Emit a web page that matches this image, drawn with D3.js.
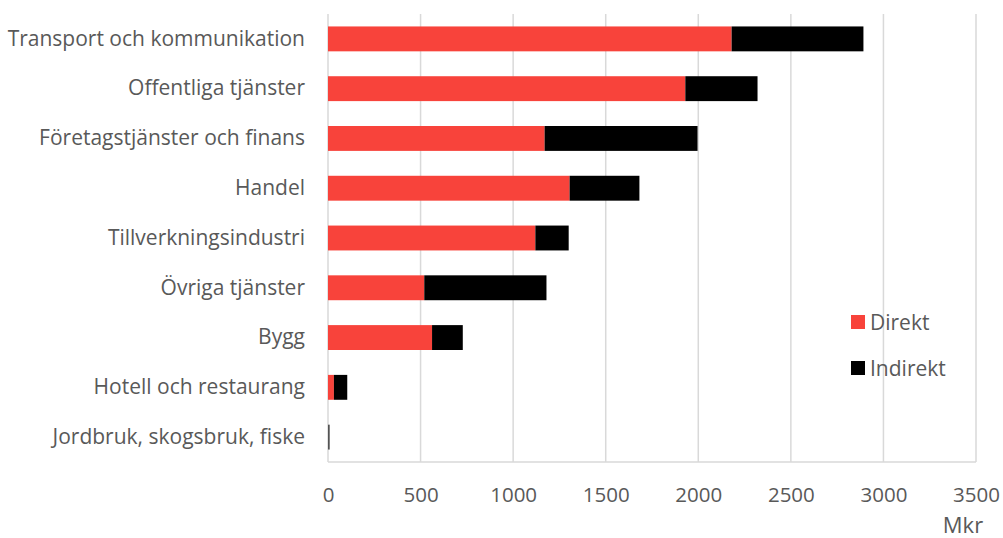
<!DOCTYPE html>
<html>
<head>
<meta charset="utf-8">
<script src="https://cdn.jsdelivr.net/npm/d3@7"></script>
<style>
  body { margin: 0; background: #fff; }
  text { font-family: "Open Sans", Lato, sans-serif; fill: #595959; }
</style>
</head>
<body>
<div id="wrapper"></div>
<script>
const categories = [
  "Transport och kommunikation",
  "Offentliga tjänster",
  "Företagstjänster och finans",
  "Handel",
  "Tillverkningsindustri",
  "Övriga tjänster",
  "Bygg",
  "Hotell och restaurang",
  "Jordbruk, skogsbruk, fiske",
];
const direkt = [2180, 1930, 1170, 1305, 1120, 520, 562, 32, 2];
const indirekt = [712, 390, 826, 377, 180, 660, 166, 72, 6];
const xTicks = [0, 500, 1000, 1500, 2000, 2500, 3000, 3500];
const seriesNames = ["Direkt", "Indirekt"];
const colors = ["#f8433b", "#000000"];

function drawBarChart() {
  let dimensions = {
    width: 1003,
    height: 538,
    margin: { top: 14, right: 27, bottom: 76, left: 328 },
  };
  dimensions.boundedWidth =
    dimensions.width - dimensions.margin.left - dimensions.margin.right;
  dimensions.boundedHeight =
    dimensions.height - dimensions.margin.top - dimensions.margin.bottom;

  const dataset = categories.map((c, i) => ({
    category: c,
    Direkt: direkt[i],
    Indirekt: indirekt[i],
  }));

  const stacked = d3.stack().keys(seriesNames)(dataset);

  const wrapper = d3
    .select("#wrapper")
    .append("svg")
    .attr("width", dimensions.width)
    .attr("height", dimensions.height);

  const bounds = wrapper
    .append("g")
    .attr(
      "transform",
      `translate(${dimensions.margin.left}, ${dimensions.margin.top})`
    );

  const xScale = d3
    .scaleLinear()
    .domain([0, 3500])
    .range([0, dimensions.boundedWidth]);

  const yScale = d3
    .scaleBand()
    .domain(categories)
    .range([0, dimensions.boundedHeight])
    .paddingInner(0.5)
    .paddingOuter(0.25);

  // gridlines
  bounds
    .append("g")
    .selectAll("line")
    .data(xTicks)
    .join("line")
    .attr("x1", (d) => xScale(d))
    .attr("x2", (d) => xScale(d))
    .attr("y1", 0)
    .attr("y2", dimensions.boundedHeight)
    .attr("stroke", "#d9d9d9")
    .attr("stroke-width", 1.5);

  bounds
    .append("line")
    .attr("x1", 0)
    .attr("x2", dimensions.boundedWidth)
    .attr("y1", dimensions.boundedHeight)
    .attr("y2", dimensions.boundedHeight)
    .attr("stroke", "#d9d9d9")
    .attr("stroke-width", 1.5);

  // bars
  bounds
    .append("g")
    .selectAll("g")
    .data(stacked)
    .join("g")
    .attr("fill", (d, i) => colors[i])
    .selectAll("rect")
    .data((d) => d)
    .join("rect")
    .attr("x", (d) => xScale(d[0]))
    .attr("width", (d) => Math.max(1, xScale(d[1]) - xScale(d[0])))
    .attr("y", (d) => yScale(d.data.category))
    .attr("height", yScale.bandwidth())
    .attr("opacity", (d) => (d[1] - d[0] < 3 ? 0 : 1));

  // category labels
  const yAxisGenerator = d3.axisLeft(yScale).tickSize(0).tickPadding(23);
  const yAxis = bounds.append("g").call(yAxisGenerator);
  yAxis.select(".domain").remove();
  yAxis
    .selectAll("text")
    .style("font-size", "21px")
    .attr("fill", "#595959");

  // x axis labels
  const xAxisGenerator = d3
    .axisBottom(xScale)
    .tickValues(xTicks)
    .tickFormat(d3.format("d"))
    .tickSize(0)
    .tickPadding(25);
  const xAxis = bounds
    .append("g")
    .attr("transform", `translate(0, ${dimensions.boundedHeight})`)
    .call(xAxisGenerator);
  xAxis.select(".domain").remove();
  xAxis
    .selectAll("text")
    .style("font-size", "20.5px")
    .attr("fill", "#595959");

  wrapper
    .append("text")
    .attr("x", 963)
    .attr("y", 533)
    .attr("text-anchor", "middle")
    .style("font-size", "22px")
    .text("Mkr");

  // legend
  const legend = wrapper
    .append("g")
    .selectAll("g")
    .data(seriesNames)
    .join("g")
    .attr("transform", (d, i) => `translate(851, ${315 + i * 46})`);
  legend
    .append("rect")
    .attr("width", 14)
    .attr("height", 14)
    .attr("fill", (d, i) => colors[i]);
  legend
    .append("text")
    .attr("x", 19)
    .attr("y", 15)
    .style("font-size", "21px")
    .text((d) => d);
}

drawBarChart();
</script>
</body>
</html>
